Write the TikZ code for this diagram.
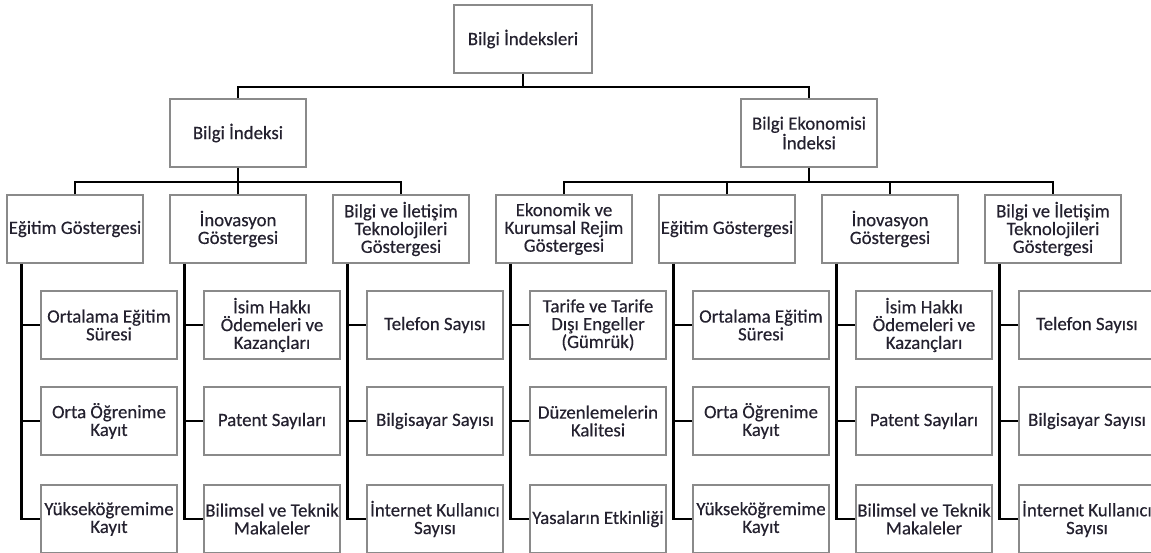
\documentclass[tikz,border=0pt]{standalone}
\usepackage{fontspec}
\setmainfont[FakeBold=0.4]{Carlito}
\usetikzlibrary{calc}
\definecolor{boxgray}{HTML}{8A8A8A}
\definecolor{txt}{HTML}{24212F}
\begin{document}
\begin{tikzpicture}[x=1pt,y=-1pt,
  box/.style={draw=boxgray,line width=1.2pt,fill=white,minimum width=136pt,
    minimum height=68pt,inner sep=0pt,align=center,text=txt,
    font=\fontsize{18.8}{17.8}\selectfont},
  link/.style={line width=2.8pt,black,line join=miter}]
\useasboundingbox (0,0) rectangle (1151,552);
\clip (0,0) rectangle (1151,552);

% levels of the hierarchy
\node[box,minimum width=138pt] (root) at (523,39) {Bilgi İndeksleri};
\node[box] (bi)  at (238,133) {Bilgi İndeksi};
\node[box] (bei) at (809,133) {Bilgi Ekonomisi\\İndeksi};

\node[box] (e1) at (75,229)   {Eğitim Göstergesi};
\node[box] (e2) at (238,229)  {İnovasyon\\Göstergesi};
\node[box] (e3) at (401,229)  {Bilgi ve İletişim\\Teknolojileri\\Göstergesi};
\node[box] (r1) at (564,229)  {Ekonomik ve\\Kurumsal Rejim\\Göstergesi};
\node[box] (r2) at (727,229)  {Eğitim Göstergesi};
\node[box] (r3) at (890,229)  {İnovasyon\\Göstergesi};
\node[box] (r4) at (1053,229) {Bilgi ve İletişim\\Teknolojileri\\Göstergesi};

% indicators under each group
\node[box] (e1-1) at (109,325) {Ortalama Eğitim\\Süresi};
\node[box] (e1-2) at (109,421) {Orta Öğrenime\\Kayıt};
\node[box] (e1-3) at (109,519) {Yükseköğremime\\Kayıt};

\node[box] (e2-1) at (272,325) {İsim Hakkı\\Ödemeleri ve\\Kazançları};
\node[box] (e2-2) at (272,421) {Patent Sayıları};
\node[box] (e2-3) at (272,519) {Bilimsel ve Teknik\\Makaleler};

\node[box] (e3-1) at (435,325) {Telefon Sayısı};
\node[box] (e3-2) at (435,421) {Bilgisayar Sayısı};
\node[box] (e3-3) at (435,519) {İnternet Kullanıcı\\Sayısı};

\node[box] (r1-1) at (598,325) {Tarife ve Tarife\\Dışı Engeller\\(Gümrük)};
\node[box] (r1-2) at (598,421) {Düzenlemelerin\\Kalitesi};
\node[box] (r1-3) at (598,519) {Yasaların Etkinliği};

\node[box] (r2-1) at (761,325) {Ortalama Eğitim\\Süresi};
\node[box] (r2-2) at (761,421) {Orta Öğrenime\\Kayıt};
\node[box] (r2-3) at (761,519) {Yükseköğremime\\Kayıt};

\node[box] (r3-1) at (924,325) {İsim Hakkı\\Ödemeleri ve\\Kazançları};
\node[box] (r3-2) at (924,421) {Patent Sayıları};
\node[box] (r3-3) at (924,519) {Bilimsel ve Teknik\\Makaleler};

\node[box] (r4-1) at (1087,325) {Telefon Sayısı};
\node[box] (r4-2) at (1087,421) {Bilgisayar Sayısı};
\node[box] (r4-3) at (1087,519) {İnternet Kullanıcı\\Sayısı};

% bus heights
\coordinate (bus1) at (0,87);
\coordinate (bus2) at (0,182);

% root to the two indices
\draw[link] (root.south) -- (root.south |- bus1);
\draw[link] (bi.north) -- (bi.north |- bus1) -- (bei.north |- bus1) -- (bei.north);

% indices to their groups
\draw[link] (bi.south) -- (bi.south |- bus2);
\draw[link] (e1.north) -- (e1.north |- bus2) -- (e3.north |- bus2) -- (e3.north);
\draw[link] (e2.north) -- (e2.north |- bus2);

\draw[link] (bei.south) -- (bei.south |- bus2);
\draw[link] (r1.north) -- (r1.north |- bus2) -- (r4.north |- bus2) -- (r4.north);
\draw[link] (r2.north) -- (r2.north |- bus2);
\draw[link] (r3.north) -- (r3.north |- bus2);

% trunks from each group down to its indicators
\foreach \g in {e1,e2,e3,r1,r2,r3,r4} {
  \coordinate (t\g) at ($(\g.south west)+(15,0)$);
  \draw[link] (t\g) |- (\g-3.west);
  \draw[link] (t\g |- \g-1.west) -- (\g-1.west);
  \draw[link] (t\g |- \g-2.west) -- (\g-2.west);
}
\end{tikzpicture}
\end{document}
